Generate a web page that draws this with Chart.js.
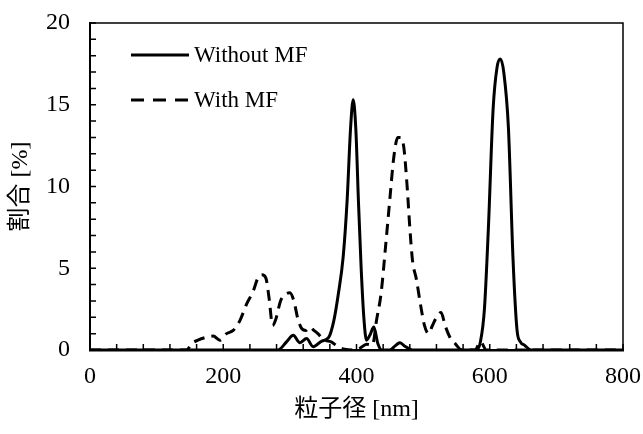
<!DOCTYPE html>
<html>
<head>
<meta charset="utf-8">
<script src="https://cdn.jsdelivr.net/npm/chart.js@4/dist/chart.umd.min.js"></script>
<style>
  html, body { margin: 0; padding: 0; background: #fff; }
  #wrap { width: 643px; height: 434px; }
</style>
</head>
<body>
<div id="wrap"><canvas id="myChart" width="643" height="434"></canvas></div>
<script>
// particle size [nm] and ratio [%]
const withoutSize = [0, 282, 295, 305, 315, 325, 335, 348, 358, 366, 373, 380, 386, 391, 395, 399, 403, 407, 411, 415, 420, 426, 432, 438, 450, 458, 465, 472, 484, 580, 586, 592, 598, 605, 611, 616, 621, 628, 635, 641, 646, 652, 662, 800];
const withoutRatio = [0, 0, 0.5, 0.9, 0.45, 0.7, 0.2, 0.55, 0.75, 1.8, 3.5, 5.7, 9.2, 13.5, 15.3, 13.5, 9.0, 5.0, 2.0, 0.6, 0.9, 1.4, 0.4, 0, 0, 0.25, 0.45, 0.25, 0, 0, 0.5, 2.5, 7.5, 14.7, 17.3, 17.8, 17.0, 13.6, 5.5, 1.2, 0.5, 0.3, 0, 0];

const withSize = [0, 145, 153, 162, 172, 185, 195, 205, 215, 225, 235, 245, 252, 258, 264, 269, 274, 279, 286, 293, 300, 306, 312, 318, 324, 330, 336, 342, 352, 362, 372, 382, 395, 405, 415, 424, 430, 437, 444, 450, 456, 462, 466, 471, 476, 480, 484, 490, 496, 502, 508, 514, 520, 527, 533, 540, 548, 558, 578, 586, 595, 800];
const withRatio = [0, 0, 0.4, 0.6, 0.75, 0.85, 0.6, 1.0, 1.2, 1.8, 2.8, 3.6, 4.4, 4.6, 4.4, 3.1, 1.5, 1.9, 3.0, 3.4, 3.5, 3.0, 1.9, 1.3, 1.2, 1.4, 1.2, 1.0, 0.6, 0.5, 0.2, 0.05, 0, 0.1, 0.35, 0.3, 1.8, 3.5, 6.5, 9.2, 11.8, 13.0, 13.0, 12.4, 10.0, 7.5, 5.5, 4.3, 2.8, 1.5, 1.0, 1.5, 2.0, 2.3, 1.5, 0.8, 0.4, 0, 0, 0.5, 0, 0];

const seriesLabels = ['Without MF', 'With MF'];
const xTicks = [0, 200, 400, 600, 800];
const yTicks = [0, 5, 10, 15, 20];

const serif = '"Liberation Serif", "Times New Roman", "Noto Sans CJK JP", serif';

function toPoints(xs, ys) {
    return xs.map((x, i) => ({ x: x, y: ys[i] }));
}

// inward minor ticks, frame on top/right, legend inside the plot
const decor = {
    id: 'decor',
    afterDraw(chart) {
        const ctx = chart.ctx;
        const a = chart.chartArea;
        const xs = chart.scales.x, ys = chart.scales.y;
        ctx.save();
        ctx.strokeStyle = '#000';
        ctx.lineWidth = 1.5;
        ctx.beginPath();
        xs.ticks.forEach(t => {
            const px = xs.getPixelForValue(t.value);
            ctx.moveTo(px, a.bottom);
            ctx.lineTo(px, a.bottom - 6);
        });
        ys.ticks.forEach(t => {
            const py = ys.getPixelForValue(t.value);
            ctx.moveTo(a.left, py);
            ctx.lineTo(a.left + 6, py);
        });
        ctx.stroke();
        // top and right frame
        ctx.lineWidth = 1.5;
        ctx.beginPath();
        ctx.moveTo(a.left, a.top);
        ctx.lineTo(a.right, a.top);
        ctx.lineTo(a.right, a.bottom);
        ctx.stroke();

        // legend
        ctx.font = '23px ' + serif;
        ctx.fillStyle = '#000';
        ctx.textBaseline = 'middle';
        chart.data.datasets.forEach((ds, i) => {
            const y = a.top + 32 + i * 45;
            const x0 = a.left + 41;
            ctx.lineWidth = 3;
            ctx.setLineDash(ds.borderDash ? [13, 9] : []);
            ctx.beginPath();
            ctx.moveTo(x0, y);
            ctx.lineTo(x0 + 58, y);
            ctx.stroke();
            ctx.setLineDash([]);
            ctx.fillText(ds.label, x0 + 63, y + 1);
        });
        ctx.restore();
    }
};

const ctx = document.getElementById('myChart').getContext('2d');
const chart = new Chart(ctx, {
    type: 'line',
    data: {
        datasets: [
            {
                label: seriesLabels[0],
                data: toPoints(withoutSize, withoutRatio),
                borderColor: '#000',
                borderWidth: 3,
                pointRadius: 0,
                cubicInterpolationMode: 'monotone',
                fill: false
            },
            {
                label: seriesLabels[1],
                data: toPoints(withSize, withRatio),
                borderColor: '#000',
                borderWidth: 3,
                borderDash: [11, 7],
                pointRadius: 0,
                cubicInterpolationMode: 'monotone',
                fill: false
            }
        ]
    },
    options: {
        responsive: false,
        animation: false,
        layout: { padding: { top: 23, right: 20, left: 0, bottom: 0 } },
        plugins: { legend: { display: false }, tooltip: { enabled: false } },
        scales: {
            x: {
                type: 'linear',
                min: 0,
                max: 800,
                afterFit: s => { s.height = 84; s.paddingLeft = 0; s.paddingRight = 0; },
                ticks: {
                    stepSize: 40,
                    autoSkip: false,
                    maxRotation: 0,
                    padding: 12,
                    color: '#000',
                    font: { family: serif, size: 24 },
                    callback: v => xTicks.includes(v) ? String(v) : ''
                },
                grid: { display: true, drawOnChartArea: false, drawTicks: false },
                border: { color: '#000', width: 2.5 },
                title: {
                    display: true,
                    text: '粒子径 [nm]',
                    color: '#000',
                    font: { family: serif, size: 24 },
                    padding: { top: 0, bottom: 10 }
                }
            },
            y: {
                min: 0,
                max: 20,
                afterFit: s => { s.width = 90; s.paddingTop = 0; s.paddingBottom = 0; },
                ticks: {
                    stepSize: 1,
                    autoSkip: false,
                    padding: 20,
                    color: '#000',
                    font: { family: serif, size: 24 },
                    callback: v => yTicks.includes(v) ? String(v) : ''
                },
                grid: { display: true, drawOnChartArea: false, drawTicks: false },
                border: { color: '#000', width: 2 },
                title: {
                    display: true,
                    text: '割合 [%]',
                    color: '#000',
                    font: { family: serif, size: 24 },
                    padding: { top: 6, bottom: 0 }
                }
            }
        }
    },
    plugins: [decor]
});
</script>
</body>
</html>
